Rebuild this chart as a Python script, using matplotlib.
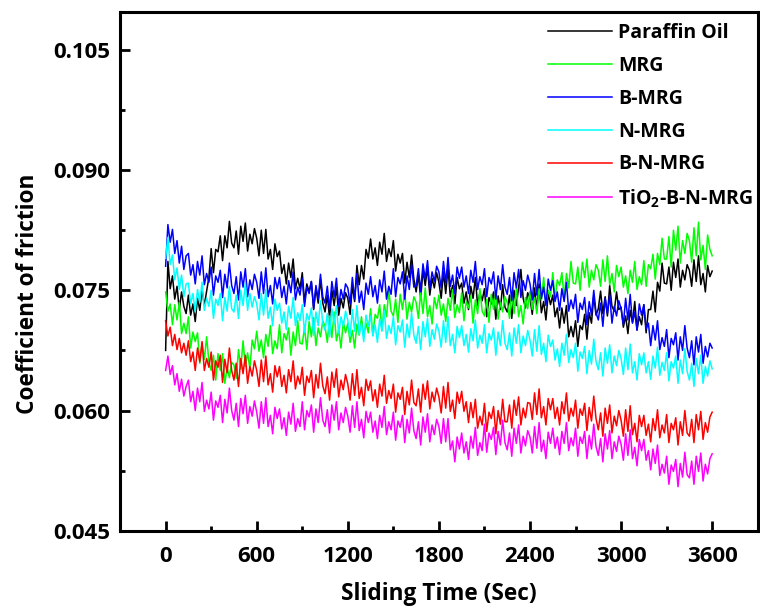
import numpy as np
import matplotlib
matplotlib.use('Agg')
import matplotlib.pyplot as plt
from matplotlib.ticker import MultipleLocator, FormatStrFormatter

plt.rcParams['font.family'] = ['Open Sans', 'DejaVu Sans']
plt.rcParams['font.weight'] = 'bold'
plt.rcParams['mathtext.fontset'] = 'custom'
plt.rcParams['mathtext.rm'] = 'Open Sans:bold'
plt.rcParams['mathtext.bf'] = 'Open Sans:bold'
plt.rcParams['mathtext.default'] = 'bf'

# tiempo de deslizamiento (s), una lectura cada 15 s
tiempo = np.arange(0, 3601, 15)

# coeficiente de friccion x 1000 (bloques de 150 s)
parafina = [67.5, 78.6, 75.2, 76.8, 73.9, 75.5, 72.6, 74.8, 73.0, 72.1,
            74.4, 71.9, 73.3, 71.1, 74.0, 72.5, 75.1, 73.1, 74.9, 76.6,
            80.2, 77.2, 80.1, 79.8, 81.8, 78.7, 81.8, 80.3, 83.6, 80.9,
            80.3, 82.4, 79.5, 83.0, 81.1, 83.4, 79.9, 82.0, 80.8, 82.7,
            81.5, 79.3, 82.5, 79.6, 82.6, 78.9, 80.1, 77.6, 80.8, 79.2,
            79.9, 77.1, 78.2, 75.8, 78.4, 76.6, 78.9, 75.2, 76.5, 75.2,
            77.2, 73.5, 75.8, 74.8, 76.1, 72.6, 75.3, 73.4, 76.4, 73.4,
            72.3, 74.4, 71.5, 75.0, 73.1, 75.4, 71.9, 74.0, 72.8, 74.7,
            74.0, 72.0, 75.6, 73.6, 78.1, 75.7, 78.1, 76.4, 80.1, 79.0,
            81.4, 78.9, 80.3, 78.1, 81.0, 79.5, 82.1, 78.6, 80.2, 79.2,
            81.2, 77.4, 79.5, 78.4, 79.6, 75.9, 78.5, 76.6, 79.4, 76.4,
            74.8, 76.9, 74.0, 77.5, 75.6, 77.9, 74.4, 76.5, 75.3, 77.2,
            76.0, 74.0, 77.3, 74.6, 77.8, 74.2, 75.6, 73.3, 76.6, 75.2,
            75.9, 73.4, 74.8, 72.6, 75.5, 74.0, 76.6, 73.1, 74.7, 73.7,
            75.2, 71.7, 74.1, 73.3, 74.8, 71.4, 74.3, 72.6, 75.7, 72.9,
            72.3, 74.4, 71.5, 75.0, 73.1, 75.4, 77.6, 74.0, 72.8, 74.7,
            74.0, 72.0, 75.3, 72.6, 75.8, 72.2, 73.6, 71.3, 74.6, 73.2,
            74.4, 71.7, 72.8, 70.3, 72.8, 70.9, 73.1, 69.2, 70.5, 69.2,
            71.2, 68.0, 70.6, 70.1, 72.0, 68.9, 72.2, 70.9, 74.3, 71.9,
            72.7, 74.9, 72.1, 74.2, 71.8, 75.6, 73.0, 72.4, 74.8, 72.6,
            72.9, 70.4, 71.8, 69.6, 72.5, 71.0, 73.6, 70.1, 71.7, 70.7,
            73.2, 69.7, 72.6, 72.6, 74.9, 72.3, 76.0, 74.9, 78.4, 75.9,
            75.8, 77.9, 75.0, 78.5, 76.6, 78.9, 75.4, 77.5, 76.3, 78.2,
            77.5, 75.5, 78.8, 76.1, 79.3, 75.7, 77.1, 74.8, 78.1, 76.7,
            77.4]
mrg = [74.8, 72.4, 73.3, 70.7, 73.2, 71.3, 73.5, 69.6, 70.9, 69.6,
       71.7, 67.8, 69.8, 68.6, 69.7, 65.9, 68.4, 66.4, 69.2, 66.1,
       65.0, 66.9, 63.8, 67.1, 65.0, 67.1, 63.4, 65.4, 64.1, 66.0,
       65.7, 64.0, 67.6, 65.2, 68.7, 65.5, 67.2, 65.2, 68.8, 67.7,
       69.9, 67.4, 68.8, 66.6, 69.5, 68.0, 70.6, 67.1, 68.7, 67.7,
       70.7, 67.2, 69.6, 68.8, 70.3, 66.9, 69.8, 68.1, 71.2, 68.4,
       68.3, 70.4, 67.6, 71.1, 69.2, 71.6, 68.1, 70.3, 69.2, 71.2,
       70.5, 68.5, 71.8, 69.1, 72.3, 68.7, 70.1, 67.8, 71.1, 69.7,
       70.9, 68.5, 70.0, 67.8, 70.8, 69.4, 71.7, 69.2, 70.9, 69.7,
       72.7, 69.4, 72.0, 71.5, 73.2, 70.0, 73.2, 71.7, 75.0, 72.4,
       71.8, 73.9, 71.0, 74.5, 72.6, 74.9, 71.4, 73.5, 72.3, 74.2,
       73.5, 71.5, 74.8, 72.1, 75.3, 71.7, 73.1, 70.8, 74.1, 72.7,
       74.4, 71.9, 73.3, 71.1, 74.0, 72.5, 75.1, 71.6, 73.2, 72.2,
       74.7, 71.2, 73.6, 72.8, 74.3, 70.9, 73.8, 72.1, 75.2, 72.4,
       71.8, 73.9, 71.0, 74.5, 72.6, 74.9, 71.4, 73.5, 72.3, 74.2,
       73.5, 71.5, 74.8, 72.1, 75.3, 71.7, 73.1, 70.8, 74.1, 72.7,
       74.9, 72.6, 74.1, 72.1, 75.2, 73.8, 76.6, 73.3, 75.0, 74.2,
       77.2, 73.8, 76.3, 75.6, 77.2, 74.0, 77.1, 75.3, 78.6, 75.9,
       75.8, 77.9, 75.0, 78.5, 76.6, 78.9, 75.4, 77.5, 76.3, 78.2,
       77.5, 75.5, 78.8, 76.1, 79.3, 75.7, 77.1, 74.8, 78.1, 76.7,
       77.9, 75.4, 76.8, 74.6, 77.5, 76.0, 78.6, 75.1, 76.7, 75.7,
       78.7, 75.5, 78.2, 77.7, 79.5, 76.4, 79.6, 78.2, 81.5, 78.9,
       78.9, 81.7, 77.9, 82.5, 80.0, 83.0, 78.4, 81.2, 79.6, 82.1,
       81.2, 78.5, 82.8, 79.3, 83.5, 78.8, 80.6, 77.6, 81.9, 80.1,
       79.3]
b_mrg = [78.0, 83.2, 81.0, 82.6, 79.6, 81.2, 78.4, 80.5, 77.6, 79.3,
         79.6, 76.9, 78.2, 75.8, 78.6, 76.9, 79.3, 75.7, 77.1, 76.0,
         77.9, 74.4, 76.8, 76.0, 77.5, 74.1, 77.0, 75.3, 78.4, 75.6,
         74.6, 76.7, 73.8, 77.3, 75.4, 77.7, 74.2, 76.3, 75.1, 77.0,
         76.0, 74.0, 77.3, 74.6, 77.8, 74.2, 75.6, 73.3, 76.6, 75.2,
         76.6, 74.1, 75.5, 73.3, 76.2, 74.7, 77.3, 73.8, 75.4, 74.4,
         76.5, 73.0, 75.4, 74.6, 76.1, 72.7, 75.6, 73.9, 77.0, 74.2,
         73.4, 75.5, 72.6, 76.1, 74.2, 76.5, 73.0, 75.1, 73.9, 75.8,
         75.3, 73.3, 76.6, 73.9, 77.1, 73.5, 74.9, 72.6, 75.9, 74.5,
         76.7, 74.2, 75.6, 73.4, 76.3, 74.8, 77.4, 73.9, 75.5, 74.5,
         77.7, 74.2, 76.6, 75.8, 77.3, 73.9, 76.8, 75.1, 78.2, 75.4,
         75.6, 77.7, 74.8, 78.3, 76.4, 78.7, 75.2, 77.3, 76.1, 78.0,
         77.3, 75.3, 78.6, 75.9, 79.1, 75.5, 76.9, 74.6, 77.9, 76.5,
         77.9, 75.4, 76.8, 74.6, 77.5, 76.0, 78.6, 75.1, 76.7, 75.7,
         77.7, 74.2, 76.6, 75.8, 77.3, 73.9, 76.8, 75.1, 78.2, 75.4,
         74.5, 76.6, 73.7, 77.2, 75.3, 77.6, 74.1, 76.2, 75.0, 76.9,
         75.8, 73.8, 77.1, 74.4, 77.6, 74.0, 75.4, 73.1, 76.4, 75.0,
         76.2, 73.6, 74.8, 72.5, 75.2, 73.6, 76.0, 72.4, 73.8, 72.7,
         74.5, 71.0, 73.4, 72.6, 74.1, 70.7, 73.6, 71.9, 75.0, 72.2,
         71.3, 73.4, 70.5, 74.0, 72.1, 74.4, 70.9, 73.0, 71.8, 73.7,
         72.7, 70.7, 74.0, 71.3, 74.5, 70.9, 72.3, 70.0, 73.3, 71.9,
         73.2, 70.2, 70.9, 68.1, 70.6, 68.8, 71.2, 67.6, 69.1, 68.0,
         70.1, 66.6, 69.0, 68.2, 69.7, 66.3, 69.2, 67.5, 70.6, 67.8,
         66.6, 68.7, 65.7, 69.2, 67.3, 69.5, 65.9, 68.0, 66.7, 68.4,
         67.8]
n_mrg = [79.0, 81.6, 78.2, 79.4, 76.3, 77.8, 75.1, 76.9, 74.2, 75.8,
         75.9, 73.3, 74.6, 72.3, 75.1, 73.5, 76.0, 72.5, 74.0, 73.0,
         75.0, 71.5, 73.9, 73.1, 74.6, 71.2, 74.1, 72.4, 75.5, 72.7,
         72.3, 74.4, 71.5, 75.0, 73.1, 75.9, 72.5, 74.6, 72.9, 74.2,
         73.3, 71.3, 74.6, 71.9, 75.1, 71.5, 72.9, 70.6, 73.9, 72.5,
         73.4, 70.9, 72.3, 70.1, 73.0, 71.5, 74.1, 70.6, 72.2, 71.2,
         73.2, 69.7, 72.1, 71.3, 72.8, 69.4, 72.3, 70.6, 73.7, 70.9,
         70.0, 72.1, 69.2, 72.7, 70.8, 73.1, 69.6, 71.7, 70.5, 72.4,
         71.3, 69.3, 72.6, 69.9, 73.1, 69.5, 70.9, 68.6, 71.9, 70.5,
         71.8, 69.3, 70.7, 68.5, 71.4, 69.9, 72.5, 69.0, 70.6, 69.6,
         71.7, 68.2, 70.6, 69.8, 71.3, 67.9, 70.8, 69.1, 72.2, 69.4,
         68.4, 70.5, 67.6, 71.1, 69.2, 71.5, 68.0, 70.1, 68.9, 70.8,
         69.9, 67.9, 71.2, 68.5, 71.7, 68.1, 69.5, 67.2, 70.5, 69.1,
         70.6, 68.1, 69.5, 67.3, 70.2, 68.7, 71.3, 67.8, 69.4, 68.4,
         70.7, 67.2, 69.6, 68.8, 70.3, 66.9, 69.8, 68.1, 71.2, 68.4,
         67.6, 69.7, 66.8, 70.3, 68.4, 70.7, 67.2, 69.3, 68.1, 70.0,
         68.8, 66.8, 70.1, 67.4, 70.6, 67.0, 68.4, 66.1, 69.4, 68.0,
         68.8, 66.3, 67.7, 65.5, 68.4, 66.9, 69.5, 66.0, 67.6, 66.6,
         68.4, 64.9, 67.3, 66.5, 68.0, 64.6, 67.5, 65.8, 68.9, 66.1,
         65.1, 67.2, 64.3, 67.8, 65.9, 68.2, 64.7, 66.8, 65.6, 67.5,
         66.5, 64.5, 67.8, 65.1, 68.3, 64.7, 66.1, 63.8, 67.1, 65.7,
         67.2, 64.7, 66.1, 63.9, 66.8, 65.3, 67.9, 64.4, 66.0, 65.0,
         67.2, 63.7, 66.1, 65.3, 66.8, 63.4, 66.3, 64.6, 67.7, 64.9,
         63.8, 65.9, 63.0, 66.5, 64.6, 66.9, 63.4, 65.5, 64.3, 66.2,
         65.2]
b_n_mrg = [71.2, 69.3, 70.4, 68.1, 69.5, 67.6, 69.0, 67.2, 68.4, 66.9,
           68.7, 66.1, 67.3, 65.0, 67.8, 66.1, 68.6, 65.0, 66.5, 65.4,
           67.3, 63.8, 66.2, 65.4, 66.9, 63.5, 66.4, 64.7, 67.8, 65.0,
           63.8, 65.9, 63.0, 66.5, 64.6, 66.9, 63.4, 65.5, 64.3, 66.2,
           65.0, 63.0, 66.3, 63.6, 66.8, 63.2, 64.6, 62.3, 65.6, 64.2,
           65.5, 63.0, 64.4, 62.2, 65.1, 63.6, 66.2, 62.7, 64.3, 63.3,
           65.4, 61.9, 64.3, 63.5, 65.0, 61.6, 64.5, 62.8, 65.9, 63.1,
           62.1, 64.2, 61.3, 64.8, 62.9, 65.2, 61.7, 63.8, 62.6, 64.5,
           63.3, 61.3, 64.6, 61.9, 65.1, 61.5, 62.9, 60.6, 63.9, 62.5,
           63.7, 61.2, 62.6, 60.4, 63.3, 61.8, 64.4, 60.9, 62.5, 61.5,
           63.3, 59.8, 62.2, 61.4, 62.9, 59.5, 62.4, 60.7, 63.8, 61.0,
           60.6, 62.7, 59.8, 63.3, 61.4, 63.7, 60.2, 62.3, 61.1, 62.8,
           61.7, 59.7, 63.0, 60.3, 63.5, 59.9, 61.3, 59.0, 62.3, 60.9,
           62.4, 59.9, 61.1, 58.5, 61.0, 59.1, 61.4, 57.8, 59.3, 58.2,
           60.9, 57.4, 59.8, 59.0, 60.5, 57.1, 60.0, 58.3, 61.4, 58.6,
           58.6, 60.7, 57.8, 61.3, 59.4, 61.7, 58.2, 60.3, 59.1, 61.0,
           60.9, 58.9, 62.2, 59.5, 62.7, 59.1, 60.5, 58.2, 61.5, 60.1,
           61.5, 59.0, 60.4, 58.2, 61.1, 59.6, 62.2, 58.7, 60.3, 59.3,
           61.3, 57.8, 60.2, 59.4, 60.9, 57.5, 60.4, 58.7, 61.8, 59.0,
           57.6, 59.7, 56.8, 60.3, 58.4, 60.7, 57.2, 59.3, 58.1, 60.0,
           58.8, 56.8, 60.1, 57.4, 60.6, 57.0, 58.4, 56.1, 59.4, 58.0,
           59.4, 56.9, 58.3, 56.1, 59.0, 57.5, 60.1, 56.6, 58.2, 57.2,
           59.5, 56.0, 58.4, 57.6, 59.1, 55.7, 58.6, 56.9, 60.0, 57.2,
           56.8, 58.9, 56.0, 59.5, 57.6, 59.9, 56.4, 58.5, 57.3, 59.2,
           59.8]
tio2_b_n_mrg = [65.0, 66.8, 64.5, 65.6, 63.2, 64.6, 62.4, 63.9, 61.8, 63.0,
                63.8, 61.1, 62.4, 60.0, 62.8, 61.1, 63.5, 59.9, 61.3, 60.2,
                62.3, 58.8, 61.2, 60.4, 61.9, 58.5, 61.4, 59.7, 62.8, 60.0,
                58.8, 60.9, 58.0, 61.5, 59.6, 61.9, 58.4, 60.5, 59.3, 61.2,
                59.8, 57.8, 61.1, 58.4, 61.6, 58.0, 59.4, 57.1, 60.4, 59.0,
                60.2, 57.7, 59.1, 56.9, 59.8, 58.3, 60.9, 57.4, 59.0, 58.0,
                61.1, 57.6, 60.0, 59.2, 60.7, 57.3, 60.2, 58.5, 61.6, 58.8,
                58.0, 60.1, 57.2, 60.7, 58.8, 61.1, 57.6, 59.7, 58.5, 60.4,
                59.3, 57.3, 60.6, 57.9, 61.1, 57.5, 58.9, 56.6, 59.9, 58.5,
                59.8, 57.3, 58.7, 56.5, 59.4, 57.9, 60.5, 57.0, 58.6, 57.6,
                59.8, 56.3, 58.7, 57.9, 59.4, 56.0, 58.9, 57.2, 60.3, 57.5,
                56.5, 58.6, 55.7, 59.2, 57.3, 59.6, 56.1, 58.2, 57.0, 58.9,
                58.0, 55.9, 59.0, 56.1, 59.0, 55.1, 56.2, 53.6, 56.7, 55.2,
                57.2, 54.7, 56.1, 53.9, 56.8, 55.3, 57.9, 54.4, 56.0, 55.0,
                58.3, 54.8, 57.2, 56.4, 57.9, 54.5, 57.4, 55.7, 58.8, 56.0,
                55.1, 57.2, 54.3, 57.8, 55.9, 58.2, 54.7, 56.8, 55.6, 57.5,
                56.7, 54.7, 58.0, 55.3, 58.5, 54.9, 56.3, 54.0, 57.3, 55.9,
                57.8, 55.3, 56.7, 54.5, 57.4, 55.9, 58.5, 55.0, 56.6, 55.6,
                57.8, 54.3, 56.7, 55.9, 57.4, 54.0, 56.9, 55.2, 58.3, 55.5,
                54.4, 56.5, 53.6, 57.1, 55.2, 57.5, 54.0, 56.1, 54.9, 56.8,
                55.8, 53.8, 57.1, 54.4, 57.6, 54.0, 55.4, 53.1, 56.4, 55.0,
                56.4, 53.8, 55.0, 52.6, 55.2, 53.4, 55.7, 51.9, 53.3, 52.2,
                54.3, 50.8, 53.2, 52.4, 53.9, 50.5, 53.4, 51.7, 54.8, 52.0,
                51.6, 53.7, 50.8, 54.3, 52.4, 54.7, 51.2, 53.3, 52.1, 54.0,
                54.6]

series = [parafina, mrg, b_mrg, n_mrg, b_n_mrg, tio2_b_n_mrg]
nombres = ['Paraffin Oil', 'MRG', 'B-MRG', 'N-MRG', 'B-N-MRG', 'TiO$_2$-B-N-MRG']
colores = ['black', '#00ff00', '#0000ff', '#00ffff', '#ff0000', '#ff00ff']

fig = plt.figure(figsize=(7.6, 6.08), dpi=100)
ax = fig.add_axes([0.158, 0.127, 0.839, 0.853])

for datos, nombre, color in zip(series, nombres, colores):
    ax.plot(tiempo, np.array(datos) / 1000, color=color, lw=1.1, label=nombre)

ax.set_xlim(-300, 3900)
ax.set_ylim(0.045, 0.1097)
ax.set_xticks([0, 600, 1200, 1800, 2400, 3000, 3600])
ax.xaxis.set_minor_locator(MultipleLocator(300))
ax.yaxis.set_major_locator(MultipleLocator(0.015))
ax.yaxis.set_minor_locator(MultipleLocator(0.0075))
ax.yaxis.set_major_formatter(FormatStrFormatter('%.3f'))

ax.tick_params(which='major', direction='in', length=7, width=2, labelsize=16)
ax.tick_params(axis='x', pad=11)
ax.tick_params(axis='y', pad=7)
ax.tick_params(which='minor', direction='in', length=3.5, width=2)
ax.tick_params(top=False, right=False, which='both')
for lado in ax.spines.values():
    lado.set_linewidth(2.2)

ax.set_xlabel('Sliding Time (Sec)', fontsize=16.3, fontweight='bold')
ax.set_ylabel('Coefficient of friction', fontsize=16.3, fontweight='bold')
ax.xaxis.set_label_coords(0.5, -0.099)
ax.yaxis.set_label_coords(-0.125, 0.457)

ax.legend(loc='upper left', bbox_to_anchor=(0.721, 0.962), bbox_transform=fig.transFigure,
          frameon=False, fontsize=14, handlelength=3.3, handletextpad=0.3,
          labelspacing=0.66, borderpad=0, borderaxespad=0)

fig.savefig('out.png', dpi=100)
